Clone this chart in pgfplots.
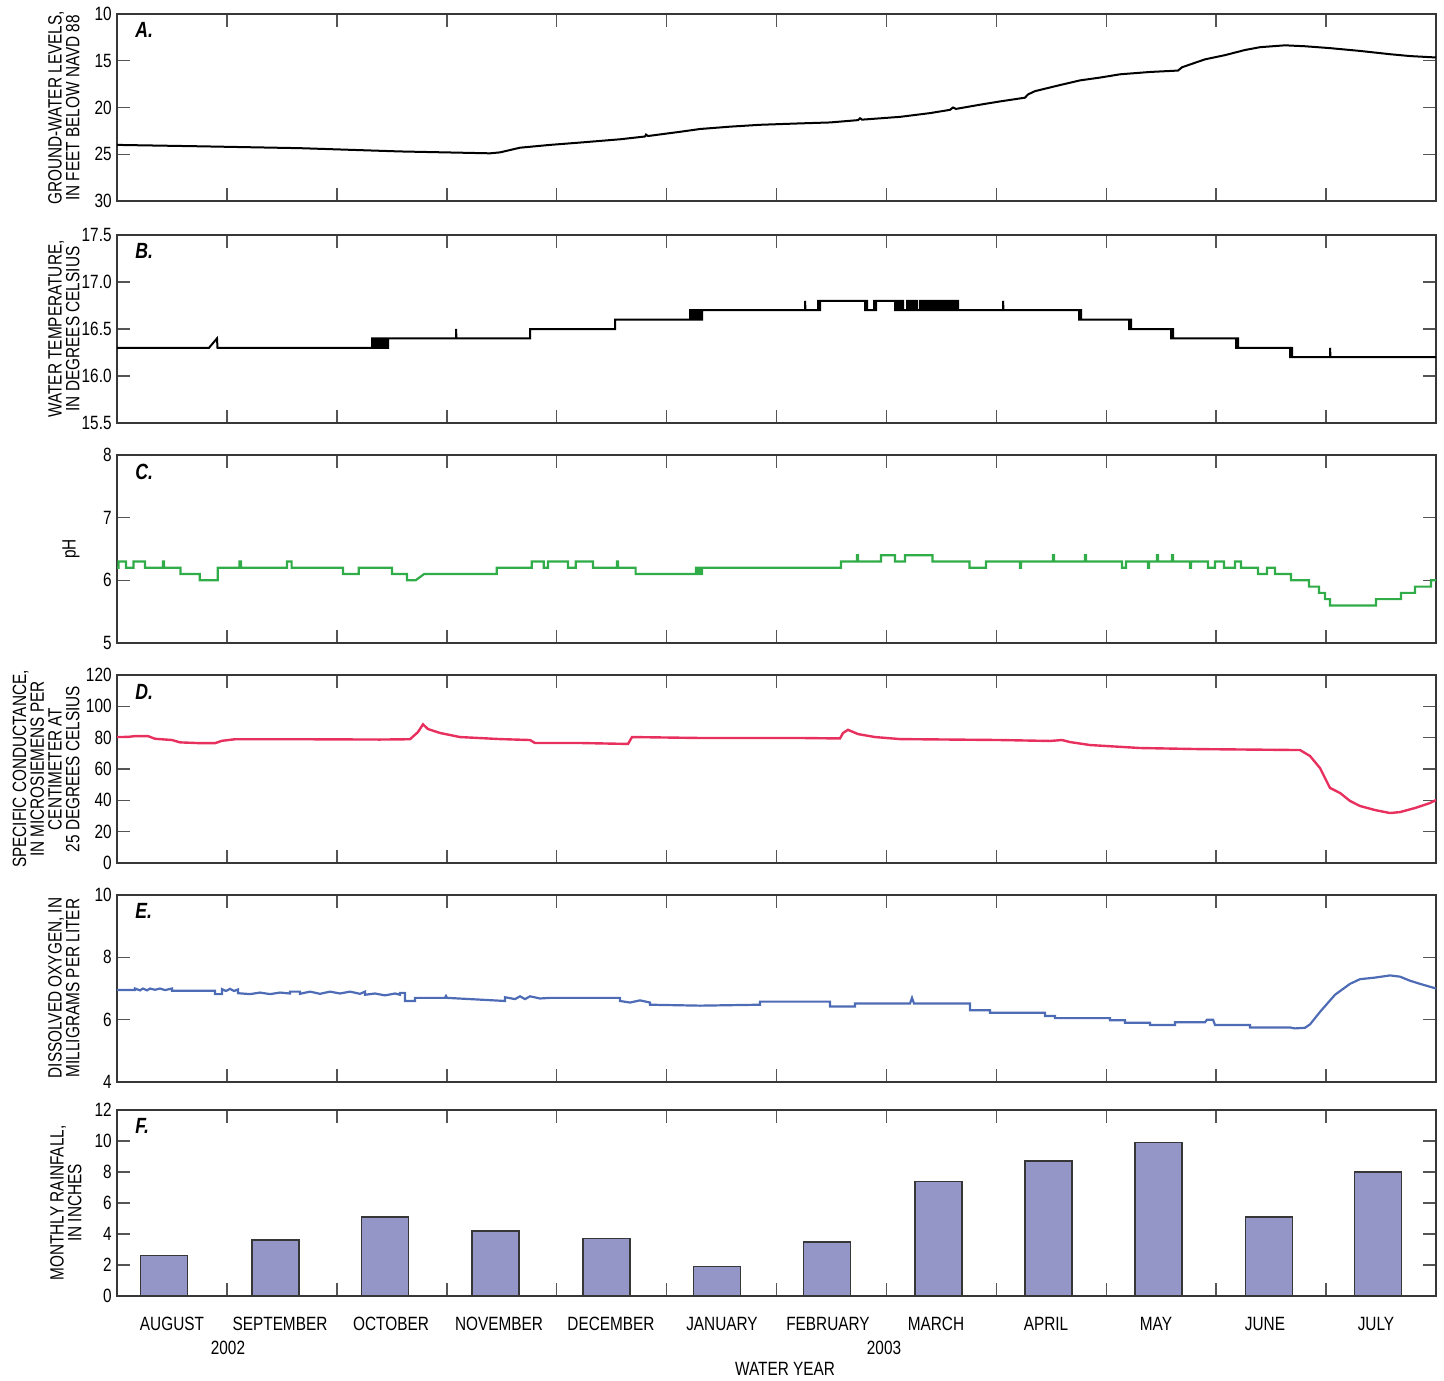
\documentclass[border=0pt]{standalone}
\usepackage{fontspec}
\setmainfont{Liberation Sans}[FakeStretch=0.8]
\usepackage{pgfplots}
\pgfplotsset{compat=1.18}
\definecolor{frame}{RGB}{55,55,55}
\definecolor{phgreen}{RGB}{48,172,72}
\definecolor{scred}{RGB}{232,48,94}
\definecolor{doblue}{RGB}{78,108,182}
\definecolor{barfill}{RGB}{148,150,200}
\newcommand\tf{\fontsize{9.6}{8.9}\selectfont}
\tikzset{letter/.style={font=\fontsize{11}{11}\selectfont\bfseries\itshape, anchor=north west, inner sep=0pt}}
\pgfplotsset{
  panel/.style={
    scale only axis, width=659.5pt,
    xmin=117, xmax=1436,
    xtick={226.9,336.8,446.8,556.7,666.6,776.5,886.4,996.4,1106.3,1216.2,1326.1},
    xticklabel=\empty,
    tick align=inside, major tick length=6.5pt,
    axis line style={draw=frame, line width=0.75pt},
    tick style={draw=frame!85, line width=0.75pt},
    yticklabel style={font=\tf, inner sep=0pt, xshift=-2.5pt},
    /pgf/number format/assume math mode=true,
    anchor=north west,
  },
}
\begin{document}
\begin{tikzpicture}
\path[use as bounding box] (0,0) rectangle (722pt,-690pt);
% ---------- A ----------
\begin{axis}[panel, at={(58.5pt,-7pt)}, height=93.5pt,
  ymin=10, ymax=30, y dir=reverse, ytick={10,15,20,25,30}]
\addplot[black, line width=1pt] coordinates {
(117,24.0)(200,24.15)(300,24.35)(400,24.7)(490,24.9)(500,24.8)(520,24.3)(550,24.0)(580,23.75)(620,23.4)(645,23.1)(646,22.9)(648,23.05)(680,22.6)(700,22.3)(730,22.05)(760,21.85)(800,21.7)(830,21.6)(858,21.35)(860,21.15)(862,21.3)(900,21.0)(930,20.6)(950,20.25)(953,20.0)(956,20.15)(980,19.7)(1000,19.35)(1025,18.95)(1028,18.6)(1035,18.25)(1060,17.6)(1080,17.1)(1100,16.8)(1120,16.45)(1150,16.2)(1178,16.05)(1182,15.7)(1190,15.4)(1205,14.85)(1225,14.4)(1245,13.85)(1260,13.55)(1285,13.35)(1305,13.45)(1330,13.65)(1360,13.95)(1390,14.3)(1410,14.5)(1436,14.65)};
\node[letter] at (rel axis cs:0.0136,0.955) {A.};
\end{axis}
% ---------- B ----------
\begin{axis}[panel, at={(58.5pt,-117.5pt)}, height=94pt,
  ymin=15.5, ymax=17.5, ytick={15.5,16,16.5,17,17.5},
  yticklabel style={/pgf/number format/.cd, fixed, fixed zerofill, precision=1}]
\addplot[black, line width=1pt] coordinates {
(117,16.3)(209,16.3)(217,16.4)(217.5,16.3)(372,16.3)
(372,16.4)(374,16.4)(374,16.3)(376,16.3)(376,16.4)(378,16.4)(378,16.3)(380,16.3)(380,16.4)(382,16.4)(382,16.3)(384,16.3)(384,16.4)(386,16.4)(386,16.3)(388,16.3)(388,16.4)(390,16.4)
(456,16.4)(456,16.5)(456.5,16.4)(530,16.4)(530,16.5)(615,16.5)(615,16.6)(690,16.6)
(690,16.7)(692,16.7)(692,16.6)(694,16.6)(694,16.7)(696,16.7)(696,16.6)(698,16.6)(698,16.7)(700,16.7)(700,16.6)(702,16.6)(702,16.7)(703,16.7)
(805,16.7)(805,16.8)(805.5,16.7)(818,16.7)(818,16.8)(819,16.8)(819,16.7)(820,16.7)(820,16.8)
(865,16.8)(865,16.7)(866,16.7)(866,16.8)(867,16.8)(867,16.7)(874,16.7)(874,16.8)(875,16.8)(875,16.7)(876,16.7)(876,16.8)(895,16.8)
(895,16.7)(897,16.7)(897,16.8)(899,16.8)(899,16.7)(901,16.7)(901,16.8)(903,16.8)(903,16.7)(907,16.7)(907,16.8)(909,16.8)(909,16.7)(911,16.7)(911,16.8)(913,16.8)(913,16.7)(915,16.7)(915,16.8)(917,16.8)(917,16.7)(920,16.7)(920,16.8)(922,16.8)(922,16.7)(924,16.7)(924,16.8)(926,16.8)(926,16.7)(928,16.7)(928,16.8)(930,16.8)(930,16.7)(932,16.7)(932,16.8)(934,16.8)(934,16.7)(936,16.7)(936,16.8)(938,16.8)(938,16.7)(940,16.7)(940,16.8)(942,16.8)(942,16.7)(944,16.7)(944,16.8)(946,16.8)(946,16.7)(948,16.7)(948,16.8)(950,16.8)(950,16.7)(952,16.7)(952,16.8)(954,16.8)(954,16.7)(956,16.7)(956,16.8)(958,16.8)(958,16.7)
(1003,16.7)(1003,16.8)(1003.5,16.7)
(1079,16.7)(1079,16.6)(1080,16.6)(1080,16.7)(1081,16.7)(1081,16.6)
(1129,16.6)(1129,16.5)(1130,16.5)(1130,16.6)(1131,16.6)(1131,16.5)
(1171,16.5)(1171,16.4)(1172,16.4)(1172,16.5)(1173,16.5)(1173,16.4)
(1236,16.4)(1236,16.3)(1237,16.3)(1237,16.4)(1238,16.4)(1238,16.3)
(1290,16.3)(1290,16.2)(1291,16.2)(1291,16.3)(1292,16.3)(1292,16.2)
(1330,16.2)(1330,16.3)(1330.5,16.2)(1436,16.2)};
\node[letter] at (rel axis cs:0.0136,0.955) {B.};
\end{axis}
% ---------- C ----------
\begin{axis}[panel, at={(58.5pt,-227.5pt)}, height=94pt,
  ymin=5, ymax=8, ytick={5,6,7,8}]
\addplot[phgreen, line width=1.1pt] coordinates {
(117,6.2)(118.5,6.2)(118.5,6.3)(126,6.3)(126,6.2)(133.5,6.2)(133.5,6.3)(145,6.3)(145,6.2)(163,6.2)(163,6.3)(164,6.3)(164,6.2)(180.5,6.2)(180.5,6.1)(199.7,6.1)(199.7,6.0)(217.7,6.0)(217.7,6.2)(239.5,6.2)(239.5,6.3)(241,6.3)(241,6.2)(287,6.2)(287,6.3)(291.6,6.3)(291.6,6.2)(343,6.2)(343,6.1)(358.7,6.1)(358.7,6.2)(392,6.2)(392,6.1)(407,6.1)(407,6.0)(415.6,6.0)(424,6.1)(496.8,6.1)(496.8,6.2)(531.8,6.2)(531.8,6.3)(543.8,6.3)(543.8,6.2)(548,6.2)(548,6.3)(568,6.3)(568,6.2)(575.8,6.2)(575.8,6.3)(593,6.3)(593,6.2)(617,6.2)(617,6.3)(618,6.3)(618,6.2)(635.6,6.2)(635.6,6.1)(696,6.1)(696,6.2)(697.5,6.2)(697.5,6.1)(699,6.1)(699,6.2)(700.5,6.2)(700.5,6.1)(702,6.1)(702,6.2)
(841,6.2)(841,6.3)(857,6.3)(857,6.4)(858,6.4)(858,6.3)(881,6.3)(881,6.4)(895,6.4)(895,6.3)(905,6.3)(905,6.4)(932.5,6.4)(932.5,6.3)(969.5,6.3)(969.5,6.2)(986,6.2)(986,6.3)(1020,6.3)(1020,6.2)(1021,6.2)(1021,6.3)(1053,6.3)(1053,6.4)(1054,6.4)(1054,6.3)(1085,6.3)(1085,6.4)(1086,6.4)(1086,6.3)(1122,6.3)(1122,6.2)(1126,6.2)(1126,6.3)(1148,6.3)(1148,6.2)(1149,6.2)(1149,6.3)(1157,6.3)(1157,6.4)(1158,6.4)(1158,6.3)(1172,6.3)(1172,6.4)(1173,6.4)(1173,6.3)(1190,6.3)(1190,6.2)(1191,6.2)(1191,6.3)(1208,6.3)(1208,6.2)(1215,6.2)(1215,6.3)(1224,6.3)(1224,6.2)(1235,6.2)(1235,6.3)(1241,6.3)(1241,6.2)(1258,6.2)(1258,6.1)(1267,6.1)(1267,6.2)(1275,6.2)(1275,6.1)(1291,6.1)(1291,6.0)(1309,6.0)(1309,5.9)(1319,5.9)(1319,5.8)(1325,5.8)(1325,5.7)(1330,5.7)(1330,5.6)(1376,5.6)(1376,5.7)(1401,5.7)(1401,5.8)(1415,5.8)(1415,5.9)(1431,5.9)(1431,6.0)(1436,6.0)};
\node[letter] at (rel axis cs:0.0136,0.955) {C.};
\end{axis}
% ---------- D ----------
\begin{axis}[panel, at={(58.5pt,-337.5pt)}, height=94pt,
  ymin=0, ymax=120, ytick={0,20,...,120}]
\addplot[scred, line width=1.2pt] coordinates {
(117,80.4)(128,80.5)(135,81.0)(148,81.0)(155,79.3)(172,78.5)(180,77.0)(200,76.5)(215,76.5)(222,78.0)(235,79.0)(300,79.0)(380,78.8)(410,79.0)(418,83.6)(423,88.5)(428,85.5)(440,83.0)(460,80.4)(500,79.1)(530,78.5)(535,76.6)(580,76.6)(628,76.0)(632,80.4)(700,79.8)(800,79.8)(840,79.5)(843,83.0)(848,85.0)(858,82.3)(875,80.4)(900,79.1)(1000,78.5)(1050,77.9)(1062,78.5)(1070,77.2)(1090,75.3)(1140,73.4)(1200,72.7)(1250,72.4)(1300,72.1)(1310,68.3)(1320,60.6)(1330,47.9)(1340,44.7)(1350,39.6)(1360,36.4)(1375,33.8)(1390,31.9)(1400,32.5)(1415,35.1)(1430,38.3)(1436,40.2)};
\node[letter] at (rel axis cs:0.0136,0.955) {D.};
\end{axis}
% ---------- E ----------
\begin{axis}[panel, at={(58.5pt,-447.5pt)}, height=93.5pt,
  ymin=4, ymax=10, ytick={4,6,8,10}]
\addplot[doblue, line width=1.1pt] coordinates {
(117,6.95)(135,6.95)(135,7.0)(140,6.94)(143,7.0)(147,6.94)(150,7.0)(155,6.96)(160,7.0)(165,6.95)(172,7.0)(172,6.93)(215,6.93)(215,6.82)(222,6.82)(222,6.98)(226,6.92)(230,6.99)(234,6.92)(238,6.97)(238,6.85)(250,6.82)(260,6.87)(270,6.82)(280,6.87)(290,6.84)(290,6.9)(300,6.9)(300,6.83)(310,6.9)(320,6.83)(330,6.9)(340,6.84)(350,6.9)(360,6.83)(365,6.9)(365,6.8)(375,6.84)(385,6.78)(395,6.84)(400,6.8)(400,6.86)(405,6.86)(405,6.6)(415,6.6)(415,6.7)(445,6.7)(446,6.76)(447,6.7)(505,6.6)(505,6.72)(515,6.66)(520,6.75)(525,6.66)(530,6.75)(540,6.68)(550,6.7)(620,6.7)(620,6.6)(630,6.55)(640,6.62)(650,6.55)(650,6.48)(700,6.45)(760,6.48)(760,6.58)(830,6.58)(830,6.42)(855,6.42)(855,6.52)(910,6.52)(912,6.7)(914,6.52)(970,6.52)(970,6.3)(990,6.3)(990,6.22)(1045,6.22)(1045,6.12)(1055,6.12)(1055,6.05)(1110,6.05)(1110,5.98)(1125,5.98)(1125,5.9)(1150,5.9)(1150,5.83)(1175,5.83)(1175,5.92)(1205,5.92)(1207,6.0)(1213,6.0)(1215,5.83)(1250,5.83)(1250,5.75)(1290,5.75)(1295,5.72)(1305,5.74)(1310,5.85)(1320,6.25)(1335,6.8)(1350,7.15)(1360,7.3)(1375,7.35)(1390,7.42)(1400,7.38)(1410,7.25)(1420,7.15)(1436,7.0)};
\node[letter] at (rel axis cs:0.0136,0.955) {E.};
\end{axis}
% ---------- F ----------
\begin{axis}[panel, at={(58.5pt,-555pt)}, height=93pt,
  ymin=0, ymax=12, ytick={0,2,...,12}, clip=false]
\addplot[ybar, bar width=23.5pt, bar shift=0pt, fill=barfill, draw=frame, line width=0.75pt] coordinates {
(164,2.6)(275.5,3.6)(385,5.1)(495.5,4.2)(606.5,3.7)(717,1.9)(827,3.5)(938.5,7.4)(1048.5,8.7)(1158.5,9.9)(1269,5.1)(1378,8.0)};
\node[letter] at (rel axis cs:0.0136,0.955) {F.};
\end{axis}
% ---------- labels ----------
\begin{scope}[every node/.style={font=\tf, inner sep=0pt}]
\node[rotate=90, align=center, anchor=south] at (40pt,-54pt) {GROUND-WATER LEVELS,\\IN FEET BELOW NAVD 88};
\node[rotate=90, align=center, anchor=south] at (40pt,-164.5pt) {WATER TEMPERATURE,\\IN DEGREES CELSIUS};
\node[rotate=90, align=center, anchor=south] at (40pt,-274.5pt) {pH};
\node[rotate=90, align=center, anchor=south] at (40pt,-384.5pt) {SPECIFIC CONDUCTANCE,\\IN MICROSIEMENS PER\\CENTIMETER AT\\25 DEGREES CELSIUS};
\node[rotate=90, align=center, anchor=south] at (40pt,-494pt) {DISSOLVED OXYGEN, IN\\MILLIGRAMS PER LITER};
\node[rotate=90, align=center, anchor=south] at (41pt,-601.5pt) {MONTHLY RAINFALL,\\IN INCHES};
\node[anchor=base] at (86pt,-665pt) {AUGUST};
\node[anchor=base] at (140pt,-665pt) {SEPTEMBER};
\node[anchor=base] at (195.5pt,-665pt) {OCTOBER};
\node[anchor=base] at (249.5pt,-665pt) {NOVEMBER};
\node[anchor=base] at (305.5pt,-665pt) {DECEMBER};
\node[anchor=base] at (361pt,-665pt) {JANUARY};
\node[anchor=base] at (414pt,-665pt) {FEBRUARY};
\node[anchor=base] at (468pt,-665pt) {MARCH};
\node[anchor=base] at (523pt,-665pt) {APRIL};
\node[anchor=base] at (578pt,-665pt) {MAY};
\node[anchor=base] at (632.5pt,-665pt) {JUNE};
\node[anchor=base] at (688pt,-665pt) {JULY};
\node[anchor=base] at (114pt,-677pt) {2002};
\node[anchor=base] at (442pt,-677pt) {2003};
\node[anchor=base] at (392.5pt,-687.5pt) {WATER YEAR};
\end{scope}
\end{tikzpicture}
\end{document}
